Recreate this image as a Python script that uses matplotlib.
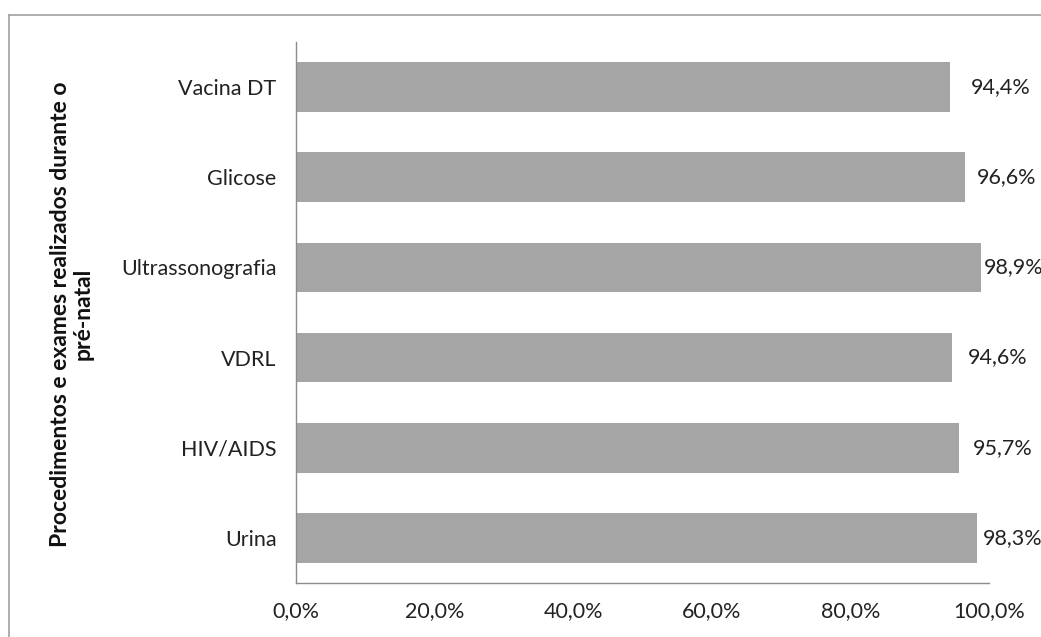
import matplotlib.pyplot as plt
from matplotlib.lines import Line2D

plt.rcParams['font.family'] = ['Lato', 'DejaVu Sans']

categorias = ["Urina", "HIV/AIDS", "VDRL", "Ultrassonografia", "Glicose", "Vacina DT"]
valores = [98.3, 95.7, 94.6, 98.9, 96.6, 94.4]
rotulos = ["98,3%", "95,7%", "94,6%", "98,9%", "96,6%", "94,4%"]
xticks = [0, 20, 40, 60, 80, 100]
xtick_labels = ["0,0%", "20,0%", "40,0%", "60,0%", "80,0%", "100,0%"]
titulo_y = "Procedimentos e exames realizados durante o\npré-natal"

# distancia do rotulo ao fim da barra (pontos), como no original
gaps = [4, 10, 12, 2, 8, 15]

W, H = 1041, 637
fig = plt.figure(figsize=(W / 100, H / 100), dpi=100)
ax = fig.add_axes([296 / W, (H - 583) / H, (989 - 296) / W, (583 - 42) / H])

pos = range(len(categorias))
ax.barh(pos, valores, height=0.55, color="#A5A5A5")
for i, (v, r) in enumerate(zip(valores, rotulos)):
    ax.annotate(r, (v, i), xytext=(gaps[i], 0), textcoords="offset points",
                va="center", ha="left", fontsize=15.5, color="#222222",
                annotation_clip=False)

ax.set_xlim(0, 100)
ax.set_ylim(-0.5, len(categorias) - 0.5)
ax.set_yticks(list(pos))
ax.set_yticklabels(categorias, fontsize=15.5, color="#222222")
ax.set_xticks(xticks)
ax.set_xticklabels(xtick_labels, fontsize=15.5, color="#222222")
ax.tick_params(axis="both", length=0)
ax.tick_params(axis="y", pad=14)
ax.tick_params(axis="x", pad=13)
for s in ["top", "right"]:
    ax.spines[s].set_visible(False)
for s in ["left", "bottom"]:
    ax.spines[s].set_color("#8C8C8C")
    ax.spines[s].set_linewidth(1)

fig.text(72 / W, 1 - 314 / H, titulo_y, rotation=90, ha="center", va="center",
         fontsize=16.5, fontweight="bold", color="#111111", multialignment="center",
         linespacing=1.1)

# moldura do grafico
fig.add_artist(Line2D([9 / W, 1.0], [1 - 15 / H, 1 - 15 / H], transform=fig.transFigure,
                      color="#A0A0A0", lw=1.2))
fig.add_artist(Line2D([9 / W, 9 / W], [0, 1 - 15 / H], transform=fig.transFigure,
                      color="#A0A0A0", lw=1.2))

fig.savefig("out.png", dpi=100, facecolor="white")
